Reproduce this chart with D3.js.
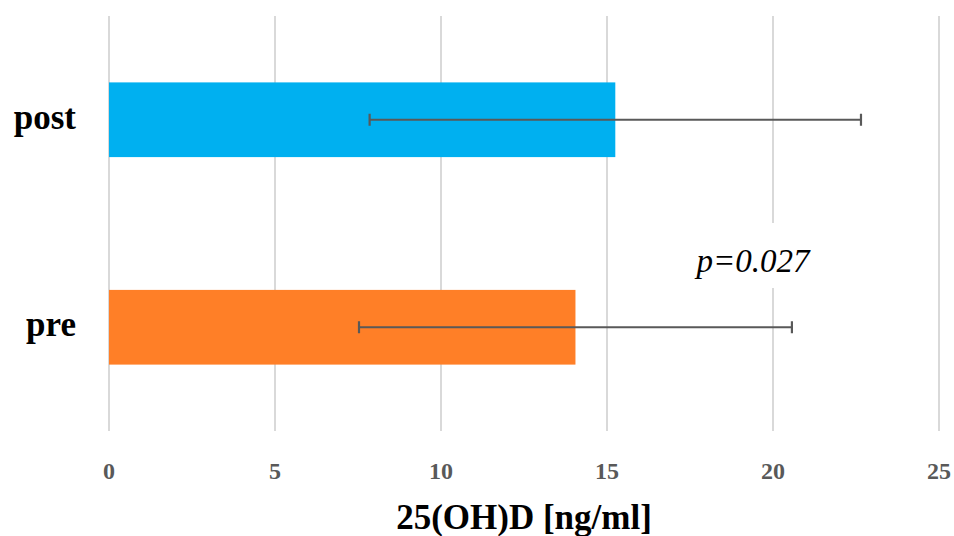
<!DOCTYPE html>
<html>
<head>
<meta charset="utf-8">
<script src="https://cdn.jsdelivr.net/npm/d3@7"></script>
<style>
  body { margin: 0; background: #fff; }
  svg { display: block; }
</style>
</head>
<body>
<svg id="chart" width="954" height="536"></svg>
<script>
const groups = ['post', 'pre'];
const means = [15.25, 14.05];
const sds = [7.4, 6.52];
const colors = ['#00B0F0', '#FF7F27'];
const ticks = [0, 5, 10, 15, 20, 25];
const pLabel = 'p=0.027';
const xTitle = '25(OH)D [ng/ml]';

const serif = '"Liberation Serif", "DejaVu Serif", serif';
const svg = d3.select('#chart');

const x = d3.scaleLinear().domain([0, 25]).range([109, 939]);
const y = d3.scaleBand().domain(groups).range([16, 431])
  .paddingInner(0.64).paddingOuter(0.32);

// gridlines
svg.append('g')
  .selectAll('line')
  .data(ticks)
  .enter()
  .append('line')
  .attr('x1', d => x(d))
  .attr('x2', d => x(d))
  .attr('y1', 16)
  .attr('y2', 431)
  .attr('stroke', '#d9d9d9')
  .attr('stroke-width', 2);

// tick labels
svg.append('g')
  .selectAll('text')
  .data(ticks)
  .enter()
  .append('text')
  .attr('x', d => x(d))
  .attr('y', 479)
  .attr('text-anchor', 'middle')
  .attr('font-family', serif)
  .attr('font-weight', 'bold')
  .attr('font-size', 24)
  .attr('fill', '#595959')
  .text(d => d);

const rows = groups.map((g, i) => ({ g, mean: means[i], sd: sds[i], color: colors[i] }));

// bars
svg.append('g')
  .selectAll('rect')
  .data(rows)
  .enter()
  .append('rect')
  .attr('x', x(0))
  .attr('y', d => y(d.g))
  .attr('width', d => x(d.mean) - x(0))
  .attr('height', y.bandwidth())
  .attr('fill', d => d.color);

// error bars
const err = svg.append('g')
  .attr('stroke', '#595959')
  .attr('stroke-width', 2.2);
rows.forEach(d => {
  const cy = y(d.g) + y.bandwidth() / 2;
  const lo = x(d.mean - d.sd);
  const hi = x(d.mean + d.sd);
  err.append('line').attr('x1', lo).attr('x2', hi).attr('y1', cy).attr('y2', cy);
  err.append('line').attr('x1', lo).attr('x2', lo).attr('y1', cy - 6).attr('y2', cy + 6);
  err.append('line').attr('x1', hi).attr('x2', hi).attr('y1', cy - 6).attr('y2', cy + 6);
});

// category labels
svg.append('g')
  .selectAll('text')
  .data(groups)
  .enter()
  .append('text')
  .attr('x', 76)
  .attr('y', d => y(d) + y.bandwidth() / 2 + 9)
  .attr('text-anchor', 'end')
  .attr('font-family', serif)
  .attr('font-weight', 'bold')
  .attr('font-size', 35)
  .attr('fill', '#000')
  .text(d => d);

// p-value label with white box behind
svg.append('rect')
  .attr('x', 690)
  .attr('y', 223)
  .attr('width', 128)
  .attr('height', 65)
  .attr('fill', '#fff');
svg.append('text')
  .attr('x', 753)
  .attr('y', 272)
  .attr('text-anchor', 'middle')
  .attr('font-family', serif)
  .attr('font-style', 'italic')
  .attr('font-size', 33)
  .attr('fill', '#000')
  .text(pLabel);

// axis title
svg.append('text')
  .attr('x', (x(0) + x(25)) / 2)
  .attr('y', 529)
  .attr('text-anchor', 'middle')
  .attr('font-family', serif)
  .attr('font-weight', 'bold')
  .attr('font-size', 35)
  .attr('fill', '#000')
  .text(xTitle);
</script>
</body>
</html>
